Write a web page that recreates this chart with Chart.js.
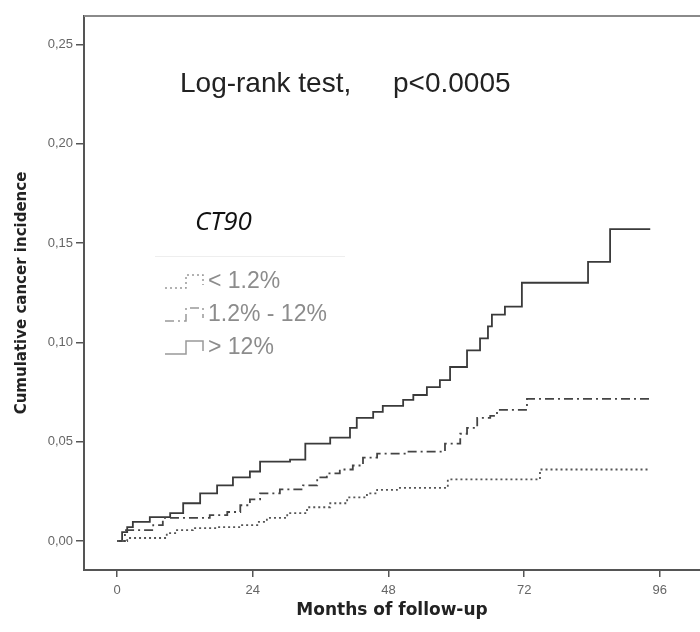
<!DOCTYPE html>
<html>
<head>
<meta charset="utf-8">
<title>Cumulative cancer incidence by CT90</title>
<script src="https://cdn.jsdelivr.net/npm/chart.js@4"></script>
<style>
    html, body { margin: 0; padding: 0; background: #fff; }
    #kmChart { display: block; }
</style>
</head>
<body>
<canvas id="kmChart" width="700" height="632"></canvas>
<script>
// Kaplan-Meier style cumulative incidence
// each point = month of a step and the level after the step
const seriesLabels = ['< 1.2%', '1.2% - 12%', '> 12%'];

const monthsLow = [0, 1.8, 8.8, 10.6, 13.4, 17.7, 21.8, 24.8, 26.5, 30.1, 33.6, 37.7, 40.7, 44.2, 46.0, 49.5, 58.5, 74.8, 94.3];
const incidenceLow = [0, 0.0015, 0.004, 0.0055, 0.0065, 0.007, 0.008, 0.0096, 0.0116, 0.014, 0.017, 0.019, 0.022, 0.024, 0.0257, 0.0267, 0.031, 0.036, 0.036];

const monthsMid = [0, 1.4, 6.4, 8.1, 16.4, 19.5, 21.8, 23.5, 25.3, 28.8, 32.9, 35.4, 37.1, 39.4, 41.7, 43.5, 46.0, 51.3, 58.0, 60.7, 61.9, 63.7, 66.0, 67.2, 72.5, 94.3];
const incidenceMid = [0, 0.0055, 0.008, 0.0116, 0.013, 0.0146, 0.018, 0.021, 0.024, 0.026, 0.028, 0.032, 0.034, 0.036, 0.038, 0.042, 0.044, 0.045, 0.049, 0.054, 0.057, 0.062, 0.063, 0.066, 0.0715, 0.0715];

const monthsHigh = [0, 0.9, 1.8, 2.8, 5.8, 9.4, 11.7, 14.7, 17.7, 20.5, 23.5, 25.3, 30.6, 33.3, 37.7, 41.2, 42.4, 45.3, 47.0, 50.6, 52.4, 54.8, 57.1, 58.9, 61.9, 64.2, 65.6, 66.3, 68.6, 71.6, 83.3, 87.2, 94.3];
const incidenceHigh = [0, 0.0045, 0.007, 0.0096, 0.012, 0.014, 0.019, 0.024, 0.028, 0.032, 0.035, 0.040, 0.041, 0.049, 0.052, 0.057, 0.062, 0.065, 0.068, 0.071, 0.0735, 0.0775, 0.081, 0.0876, 0.096, 0.102, 0.108, 0.114, 0.118, 0.130, 0.1405, 0.157, 0.157];

const xTicks = [0, 24, 48, 72, 96];
const yTicks = [0, 0.05, 0.10, 0.15, 0.20, 0.25];

function toPoints(months, values) {
    return months.map((m, i) => ({ x: m, y: values[i] }));
}

// Dash patterns for the three groups
const dashes = [[2, 3], [9, 4, 2, 4], []];

// Draws the text labels, the top frame line and the small legend
const annotationsPlugin = {
    id: 'annotations',
    afterDraw(chart) {
        const ctx = chart.ctx;
        const area = chart.chartArea;
        ctx.save();

        // top frame line
        ctx.strokeStyle = '#8a8a8a';
        ctx.lineWidth = 2;
        ctx.beginPath();
        ctx.moveTo(area.left, area.top);
        ctx.lineTo(area.right, area.top);
        ctx.stroke();

        // test result
        ctx.fillStyle = '#222';
        ctx.font = '28px "Liberation Sans", Arial, sans-serif';
        ctx.textBaseline = 'middle';
        ctx.textAlign = 'left';
        ctx.fillText('Log-rank test,', 180, 84);
        ctx.fillText('p<0.0005', 393, 84);

        // group name
        ctx.font = 'italic 26px "Open Sans", sans-serif';
        ctx.fillStyle = '#111';
        ctx.fillText('CT90', 195, 223);

        // faint legend box line
        ctx.strokeStyle = '#eeeeee';
        ctx.lineWidth = 1;
        ctx.beginPath();
        ctx.moveTo(155, 256.5);
        ctx.lineTo(345, 256.5);
        ctx.stroke();

        // legend rows
        const rowY = [282, 315, 348];
        ctx.font = '23px "Liberation Sans", Arial, sans-serif';
        seriesLabels.forEach((label, i) => {
            const y = rowY[i];
            ctx.strokeStyle = '#999';
            ctx.lineWidth = 1.5;
            ctx.setLineDash(dashes[i]);
            ctx.beginPath();
            ctx.moveTo(165, y + 6);
            ctx.lineTo(186, y + 6);
            ctx.lineTo(186, y - 7);
            ctx.lineTo(203, y - 7);
            ctx.lineTo(203, y + 3);
            ctx.stroke();
            ctx.setLineDash([]);
            ctx.fillStyle = '#8c8c8c';
            ctx.fillText(label, 208, y);
        });

        ctx.restore();
    }
};

const datasets = [
    { label: seriesLabels[0], data: toPoints(monthsLow, incidenceLow), borderColor: '#555', borderDash: dashes[0] },
    { label: seriesLabels[1], data: toPoints(monthsMid, incidenceMid), borderColor: '#444', borderDash: dashes[1] },
    { label: seriesLabels[2], data: toPoints(monthsHigh, incidenceHigh), borderColor: '#3a3a3a', borderDash: dashes[2] }
].map(ds => Object.assign(ds, {
    stepped: 'before',
    borderWidth: 1.8,
    pointRadius: 0,
    fill: false
}));

const ctx = document.getElementById('kmChart').getContext('2d');
new Chart(ctx, {
    type: 'line',
    data: { datasets: datasets },
    options: {
        responsive: false,
        animation: false,
        layout: { padding: { left: 0, right: 0, top: 16, bottom: 0 } },
        plugins: {
            legend: { display: false },
            tooltip: { enabled: false }
        },
        scales: {
            x: {
                type: 'linear',
                min: -5.84,
                max: 103.1,
                afterBuildTicks: axis => { axis.ticks = xTicks.map(v => ({ value: v })); },
                afterFit: axis => { axis.height = 62; },
                border: { color: '#555', width: 2 },
                grid: { drawOnChartArea: false, drawTicks: true, tickLength: 7, color: '#555', lineWidth: 1.5 },
                ticks: {
                    color: '#666',
                    padding: 6,
                    maxRotation: 0,
                    font: { family: '"Liberation Sans", Arial, sans-serif', size: 13 }
                },
                title: {
                    display: true,
                    text: 'Months of follow-up',
                    color: '#222',
                    padding: { top: 11, bottom: 11 },
                    font: { family: '"DejaVu Sans", sans-serif', size: 17, weight: 'bold' }
                }
            },
            y: {
                type: 'linear',
                min: -0.0146,
                max: 0.2643,
                afterBuildTicks: axis => { axis.ticks = yTicks.map(v => ({ value: v })); },
                afterFit: axis => { axis.width = 84; },
                border: { color: '#555', width: 2 },
                grid: { drawOnChartArea: false, drawTicks: true, tickLength: 8, color: '#555', lineWidth: 1.5 },
                ticks: {
                    color: '#666',
                    padding: 3,
                    callback: v => v.toFixed(2).replace('.', ','),
                    font: { family: '"Liberation Sans", Arial, sans-serif', size: 13 }
                },
                title: {
                    display: true,
                    text: 'Cumulative cancer incidence',
                    color: '#222',
                    padding: { top: 13, bottom: 13 },
                    font: { family: '"DejaVu Sans", sans-serif', size: 15, weight: 'bold' }
                }
            }
        }
    },
    plugins: [annotationsPlugin]
});
</script>
</body>
</html>
